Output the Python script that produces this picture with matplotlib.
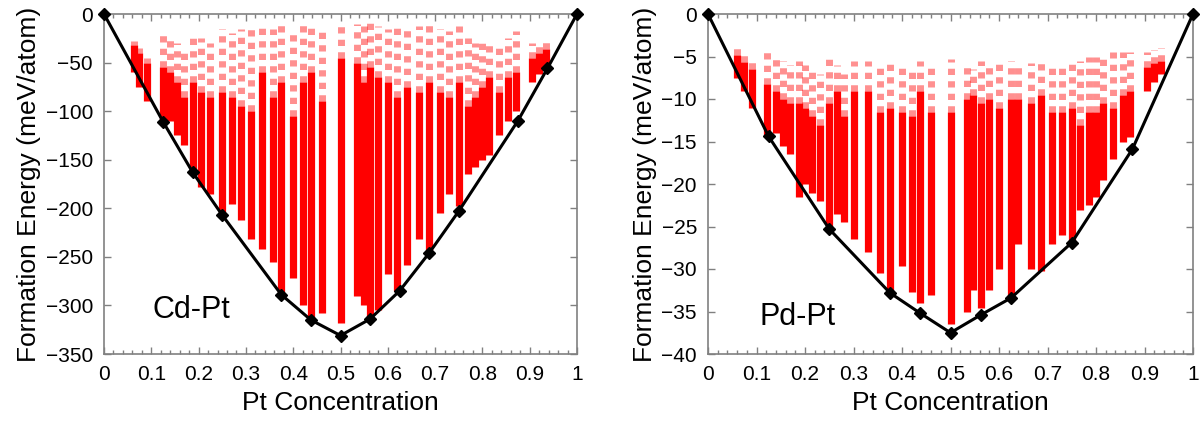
import matplotlib
matplotlib.use("Agg")
import matplotlib.pyplot as plt
from matplotlib.ticker import MultipleLocator

plt.rcParams['font.family'] = ['Liberation Sans', 'DejaVu Sans']

# convex hull (ground states), Pt concentration vs formation energy
cdpt_hull_x = [0, 0.125, 0.1875, 0.25, 0.375, 0.4375, 0.5, 0.5625, 0.625, 0.6875, 0.75, 0.875, 0.9375, 1]
cdpt_hull_e = [0, -111, -163, -207, -289, -315, -331, -314, -285, -246, -203, -110, -56, 0]

pdpt_hull_x = [0, 0.125, 0.25, 0.375, 0.4375, 0.5, 0.5625, 0.625, 0.75, 0.875, 1]
pdpt_hull_e = [0, -14.4, -25.3, -32.8, -35.2, -37.5, -35.4, -33.4, -26.9, -15.9, 0]

# enumerated structures, one column per concentration:
# highest (sparse) energy, start of the dense part, lowest energy
cdpt_col_x = [0.0625, 0.075, 0.09, 0.125, 0.14, 0.155, 0.17, 0.1875, 0.205, 0.225,
              0.25, 0.27, 0.29, 0.31, 0.333, 0.358, 0.375, 0.40, 0.42, 0.4375,
              0.46, 0.50, 0.535, 0.55, 0.5625, 0.58, 0.60, 0.62, 0.64, 0.665,
              0.6875, 0.71, 0.73, 0.75, 0.77, 0.785, 0.80, 0.815, 0.835, 0.855,
              0.87, 0.905, 0.92, 0.935]
cdpt_col_top = [-28, -35, -45, -20, -25, -30, -35, -20, -25, -30,
                -15, -20, -15, -12, -10, -15, -8, -15, -10, -8,
                -15, -8, -10, -12, -8, -12, -15, -10, -15, -12,
                -10, -15, -18, -12, -25, -30, -25, -30, -30, -25,
                -18, -30, -28, -25]
cdpt_col_dense = [-32, -40, -50, -55, -60, -70, -85, -70, -80, -85,
                  -80, -85, -95, -100, -60, -85, -70, -105, -70, -60,
                  -90, -45, -50, -70, -55, -65, -70, -85, -75, -80,
                  -70, -80, -85, -70, -95, -85, -75, -65, -80, -65,
                  -60, -45, -40, -36]
cdpt_col_low = [-60, -75, -90, -112, -110, -125, -135, -165, -178, -185,
                -205, -196, -212, -232, -242, -255, -290, -272, -300, -314,
                -308, -318, -290, -300, -314, -305, -268, -285, -258, -232,
                -248, -205, -185, -198, -165, -158, -150, -145, -125, -110,
                -100, -70, -62, -55]

pdpt_col_x = [0.06, 0.075, 0.09, 0.122, 0.14, 0.155, 0.17, 0.1875, 0.20, 0.215,
              0.23, 0.25, 0.265, 0.28, 0.30, 0.33, 0.355, 0.375, 0.40, 0.42,
              0.4375, 0.46, 0.50, 0.533, 0.547, 0.5625, 0.58, 0.60, 0.625, 0.64,
              0.665, 0.6875, 0.71, 0.73, 0.75, 0.767, 0.785, 0.80, 0.815, 0.835,
              0.855, 0.87, 0.905, 0.92, 0.935]
pdpt_col_top = [-3.8, -4.5, -5.5, -4.5, -5, -5.5, -6, -5.5, -6, -6.5,
                -7, -5.2, -6, -7, -5.5, -5.5, -6, -5.5, -6, -6.5,
                -5.5, -5.8, -5.3, -5.8, -6.5, -5.5, -6, -5.8, -5.5, -6,
                -5.8, -5.5, -6, -6, -5.4, -5.5, -5, -5, -5, -4.5,
                -4.5, -4.5, -4.5, -4.2, -4]
pdpt_col_dense = [-4.8, -5.6, -6.5, -8.2, -9, -10, -10.5, -10.5, -11, -12,
                  -13, -10.5, -9, -12, -9, -9, -11.5, -11, -11.5, -12,
                  -9, -11.5, -11.5, -10, -9.5, -10.5, -10, -11, -10, -10,
                  -10.5, -9.5, -11.5, -11.5, -11, -13, -11.5, -11.5, -10.5, -11,
                  -9.5, -9, -6.2, -5.8, -5.5]
pdpt_col_low = [-7.5, -9, -11, -14.5, -14, -15.5, -16.5, -21.5, -20, -21,
                -22, -25, -23.5, -24.5, -26.5, -28, -30.5, -32.7, -29.6, -32.7,
                -34, -33, -36.5, -35, -32.5, -34.6, -32.5, -30, -33.5, -27,
                -30, -30.2, -27, -26, -26.8, -23, -22.5, -21.5, -19.5, -17,
                -15, -14.5, -9, -8, -7]

panels = [
    ("Cd-Pt", cdpt_hull_x, cdpt_hull_e, cdpt_col_x, cdpt_col_top, cdpt_col_dense, cdpt_col_low,
     -350, 50, -305),
    ("Pd-Pt", pdpt_hull_x, pdpt_hull_e, pdpt_col_x, pdpt_col_top, pdpt_col_dense, pdpt_col_low,
     -40, 5, -35.6),
]

fig = plt.figure(figsize=(12.01, 4.21), dpi=100)
rects = [[104/1201, 67/421, 473/1201, 340/421],
         [708/1201, 67/421, 485/1201, 340/421]]

for rect, (name, hx, he, cx, ctop, cdense, clow, ymin, ystep, label_y) in zip(rects, panels):
    ax = fig.add_axes(rect)
    # sparse upper part of each column, then the dense lower part
    ax.vlines(cx, cdense, ctop, color='#ff2222', lw=5, alpha=0.5,
              linestyles=(0, (0.9, 0.9)), zorder=1)
    ax.vlines(cx, clow, cdense, color='red', lw=5.2, zorder=2)
    ax.plot(hx, he, color='black', lw=2.2, marker='D', ms=6.5, zorder=3, clip_on=False)
    ax.text(0.185, label_y, name, fontsize=22, ha='center', va='center')

    ax.set_xlim(0, 1)
    ax.set_ylim(ymin, 0)
    ax.xaxis.set_minor_locator(MultipleLocator(0.02))
    ax.yaxis.set_major_locator(MultipleLocator(ystep))
    ax.set_xticks([i / 10 for i in range(11)])
    ax.set_xticklabels(['0', '0.1', '0.2', '0.3', '0.4', '0.5', '0.6', '0.7', '0.8', '0.9', '1'])
    ax.tick_params(direction='in', top=True, right=True, labelsize=15,
                   length=5, width=1, color='#808080', pad=8)
    ax.tick_params(which='minor', direction='in', top=True, length=3, width=1, color='#808080')
    for s in ax.spines.values():
        s.set_color('#808080')
        s.set_linewidth(1.2)
    ax.set_xlabel('Pt Concentration', fontsize=19, labelpad=5)
    ax.set_ylabel('Formation Energy (meV/atom)', fontsize=19, labelpad=3)

fig.savefig('out.png', dpi=100)
